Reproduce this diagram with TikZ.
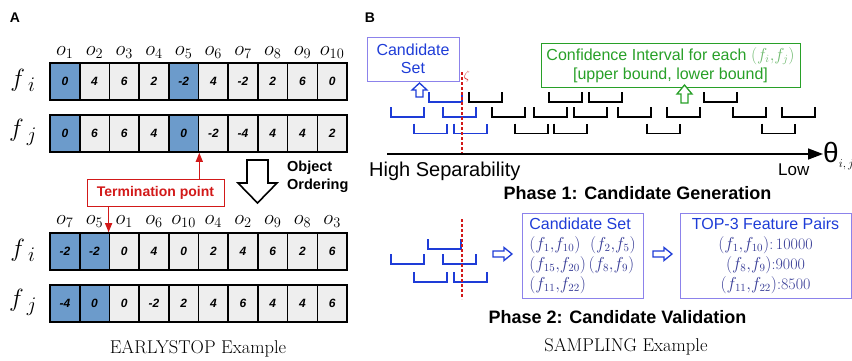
\documentclass[tikz,border=0pt]{standalone}
\usepackage{fontspec}
\setsansfont{Liberation Sans}
\usetikzlibrary{positioning,arrows.meta}

\definecolor{hot}{RGB}{108,155,203}
\definecolor{cold}{RGB}{238,238,238}
\definecolor{termred}{RGB}{210,25,25}
\definecolor{candblue}{RGB}{30,60,215}
\definecolor{boxblue}{RGB}{140,130,235}
\definecolor{pairblue}{RGB}{55,60,150}
\definecolor{ciGreen}{RGB}{40,160,40}
\definecolor{ciLight}{RGB}{110,185,110}

\begin{document}
\begin{tikzpicture}[x=1pt, y=-1pt,
  cell/.style={draw, line width=1.6pt, minimum width=29.7pt, minimum height=37pt,
    inner sep=0pt, font=\sffamily\bfseries\itshape\fontsize{12}{12}\selectfont},
  olab/.style={anchor=base, inner sep=0pt, font=\fontsize{22}{22}\selectfont},
  flab/.style={font=\fontsize{28}{28}\selectfont},
  panel/.style={font=\sffamily\bfseries\fontsize{14}{14}\selectfont},
  redarr/.style={termred, line width=1.3pt, -{Triangle[length=9pt,width=7pt]}},
  hollow/.style={fill=white, line width=1.4pt, line join=miter},
  bkt/.style={line width=1.6pt},
  zeta/.style={termred, line width=1.5pt, dash pattern=on 3pt off 2pt},
  bluebox/.style={draw=boxblue, line width=1pt, text=candblue},
  phase/.style={font=\sffamily\bfseries\fontsize{18}{18}\selectfont},
  caption/.style={font=\fontsize{18.5}{18.5}\selectfont}]
\useasboundingbox (0,0) rectangle (852,360);

% ---- A: EarlyStop ----
\node[panel] (pa) at (15,18) {A};

\foreach \v/\c [count=\k] in {0/hot,4/cold,6/cold,2/cold,-2/hot,4/cold,-2/cold,2/cold,6/cold,0/cold}
  \node[cell, fill=\c] (ai\k) at ({50+29.7*(\k-0.5)},81.5) {\v};
\foreach \v/\c [count=\k] in {0/hot,6/cold,6/cold,4/cold,0/hot,-2/cold,-4/cold,4/cold,4/cold,2/cold}
  \node[cell, fill=\c] (aj\k) at ({50+29.7*(\k-0.5)},133.5) {\v};
\foreach \o [count=\k] in {1,...,10}
  \node[olab] (oa\k) at ([yshift=7pt]ai\k.north) {$o_{\o}$};

\foreach \v/\c [count=\k] in {-2/hot,-2/hot,0/cold,4/cold,0/cold,2/cold,4/cold,6/cold,2/cold,6/cold}
  \node[cell, fill=\c] (bi\k) at ({50+29.7*(\k-0.5)},251.5) {\v};
\foreach \v/\c [count=\k] in {-4/hot,0/hot,0/cold,-2/cold,2/cold,4/cold,6/cold,4/cold,4/cold,6/cold}
  \node[cell, fill=\c] (bj\k) at ({50+29.7*(\k-0.5)},303.5) {\v};
\foreach \o [count=\k] in {7,5,1,6,10,4,2,9,8,3}
  \node[olab] (ob\k) at ([yshift=8pt]bi\k.north) {$o_{\o}$};

\node[flab] (fia) at (23,80) {$f_{\;i}$};
\node[flab] (fja) at (23,132) {$f_{\;j}$};
\node[flab] (fib) at (23,250) {$f_{\;i}$};
\node[flab] (fjb) at (23,302) {$f_{\;j}$};

\node[draw=termred, line width=0.8pt, text=termred, minimum width=137pt, minimum height=27pt,
  inner sep=0pt, font=\sffamily\bfseries\fontsize{14}{14}\selectfont] (term) at (155.5,192.5) {Termination point};
\draw[redarr] (term.north -| aj5.south east) -- (aj5.south east);
\draw[redarr] (term.south -| bi3.north west) -- (bi3.north west);

% object ordering arrow
\draw[hollow, line width=1.6pt] (247,160) -- (268,160) -- (268,183) -- (277,183) -- (257.5,203)
  -- (238,183) -- (247,183) -- cycle;
\node[anchor=west, align=left, inner sep=0pt,
  font=\sffamily\bfseries\fontsize{14.5}{17.5}\selectfont] (order) at (287,177) {Object\\Ordering};

\node[caption] (capa) at (198,349) {EARLYSTOP Example};

% ---- B: Sampling ----
\node[panel] (pb) at (370,18) {B};

\node[bluebox, align=center, minimum width=92pt, minimum height=44pt, inner sep=0pt,
  font=\sffamily\fontsize{16}{18.5}\selectfont] (cand) at (413,59) {Candidate\\Set};
\draw[hollow, draw=candblue, line width=1.3pt] (416,97) -- (423,97) -- (423,90) -- (427,90)
  -- (419.5,83) -- (412,90) -- (416,90) -- cycle;

\node[draw=ciGreen, line width=1pt, text=ciGreen, align=center, minimum width=259pt,
  minimum height=44pt, inner sep=0pt, font=\sffamily\fontsize{16}{19}\selectfont] (conf) at (670.5,65)
  {Confidence Interval for each \textcolor{ciLight}{$(f_{i}{,}f_{j})$}\\{[upper bound, lower bound]}};
\draw[hollow, draw=ciGreen, line width=1.3pt] (681,103) -- (688,103) -- (688,94) -- (692,94)
  -- (684.5,85) -- (677,94) -- (681,94) -- cycle;

% intervals
\foreach \x/\b in {429/102,391/117,443/117,414/133.5,454/133.5}
  \draw[bkt, candblue] (\x,\b-10) -- (\x,\b) -- ({\x+33},\b) -- ({\x+33},\b-10);
\foreach \x/\b in {469/102,549/102,589/102,704/102,
    492/117,534/117,574/117,618/117,667/117,733/117,782/117,
    515/133.5,554/133.5,647/133.5,762/133.5}
  \draw[bkt] (\x,\b-10) -- (\x,\b) -- ({\x+33},\b) -- ({\x+33},\b-10);

\coordinate (z1a) at (462,72);
\coordinate (z1b) at (462,153);
\draw[zeta] (z1a) -- (z1b);
\node[text=termred, inner sep=0pt, font=\fontsize{12}{12}\selectfont] (zl) at (467,76) {$\zeta$};

\node[inner sep=0pt, anchor=west, font=\sffamily\fontsize{28}{28}\selectfont] (theta) at (823,156)
  {θ\raisebox{-5pt}{\fontsize{12}{12}\selectfont$i,j$}};
\coordinate (ax0) at (387,154);
\draw[line width=1.5pt, -{Triangle[length=15pt,width=11pt]}] (ax0) -- (theta.west |- ax0);
\node[anchor=west, inner sep=0pt, font=\sffamily\fontsize{20}{20}\selectfont] (high) at (369,171) {High Separability};
\node[anchor=west, inner sep=0pt, font=\sffamily\fontsize{17}{17}\selectfont] (low) at (778,170) {Low};
\node[phase] (ph1) at (637.5,193) {Phase 1: Candidate Generation};

% phase 2
\foreach \x/\b in {428/249,391/264,443/264,414/282,454/282}
  \draw[bkt, candblue] (\x,\b-10) -- (\x,\b) -- ({\x+33},\b) -- ({\x+33},\b-10);
\coordinate (z2a) at (462,219);
\coordinate (z2b) at (462,299);
\draw[zeta] (z2a) -- (z2b);

\draw[hollow, draw=candblue, line width=1.3pt] (493,251) -- (504,251) -- (504,247.5) -- (512,254)
  -- (504,260.5) -- (504,257) -- (493,257) -- cycle;
\node[bluebox, align=left, minimum width=121pt, minimum height=85pt, inner sep=0pt,
  font=\fontsize{16}{20}\selectfont] (cset) at (582.5,255.5)
  {{\sffamily\fontsize{16}{20}\selectfont Candidate Set}\\
   \textcolor{pairblue}{$(f_{1}{,}f_{10})$\ \ $(f_{2}{,}f_{5})$}\\
   \textcolor{pairblue}{$(f_{15}{,}f_{20})$\,$(f_{8}{,}f_{9})$}\\
   \textcolor{pairblue}{$(f_{11}{,}f_{22})$}};
\draw[hollow, draw=candblue, line width=1.3pt] (653,251) -- (664,251) -- (664,247.5) -- (672,254)
  -- (664,260.5) -- (664,257) -- (653,257) -- cycle;
\node[bluebox, align=center, minimum width=171pt, minimum height=85pt, inner sep=0pt,
  font=\fontsize{16}{20}\selectfont] (top3) at (765.5,255.5)
  {{\sffamily\fontsize{16}{18}\selectfont TOP-3 Feature Pairs}\\
   \textcolor{pairblue}{$(f_{1}{,}f_{10})$:\,10000}\\
   \textcolor{pairblue}{$(f_{8}{,}f_{9})$:9000}\\
   \textcolor{pairblue}{$(f_{11}{,}f_{22})$:8500}};
\node[phase] (ph2) at (617.5,317) {Phase 2: Candidate Validation};

\node[caption] (capb) at (626,347) {SAMPLING Example};
\end{tikzpicture}
\end{document}
